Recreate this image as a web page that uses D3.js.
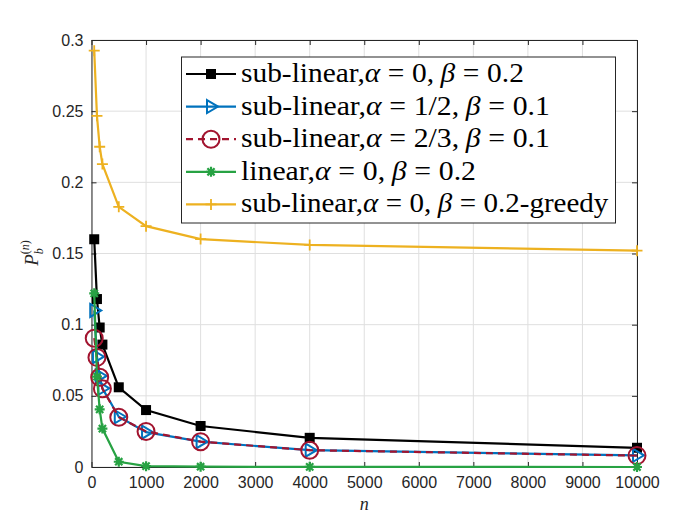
<!DOCTYPE html>
<html><head><meta charset="utf-8">
<script src="https://cdn.jsdelivr.net/npm/d3@7"></script>
<style>body{margin:0;background:#fff}svg{display:block}</style>
</head><body>
<svg id="c" width="700" height="525"></svg>
<script>
const nValues = [50, 100, 150, 200, 500, 1000, 2000, 4000, 10000];
const subA0B02 = [0.160, 0.118, 0.098, 0.086, 0.056, 0.040, 0.0288, 0.0205, 0.0135];
const subA12B01 = [0.110, 0.0775, 0.064, 0.0553, 0.0353, 0.0245, 0.0178, 0.0118, 0.0082];
const subA23B01 = [0.0905, 0.077, 0.063, 0.055, 0.035, 0.025, 0.0178, 0.0118, 0.0080];
const linA0B02 = [0.122, 0.0635, 0.0405, 0.027, 0.0037, 0.0006, 0.0002, 0.0001, 0.0];
const greedy = [0.2925, 0.2467, 0.225, 0.2128, 0.1828, 0.1692, 0.1601, 0.156, 0.152];
const xTicks = [0,1000,2000,3000,4000,5000,6000,7000,8000,9000,10000];
const yTicks = [0,0.05,0.1,0.15,0.2,0.25,0.3];
const legendLabels = [
  "sub-linear,α = 0, β = 0.2",
  "sub-linear,α = 1/2, β = 0.1",
  "sub-linear,α = 2/3, β = 0.1",
  "linear,α = 0, β = 0.2",
  "sub-linear,α = 0, β = 0.2-greedy"
];

const svg = d3.select("#c");
const L = 91.5, R = 637, T = 40, B = 467;
const x = d3.scaleLinear().domain([0, 10000]).range([L, R]);
const y = d3.scaleLinear().domain([0, 0.3]).range([B, T]);
const axisCol = "#262626";

// grid
const g = svg.append("g");
g.selectAll(".gx").data(xTicks).join("line")
  .attr("x1", d => x(d)).attr("x2", d => x(d)).attr("y1", T).attr("y2", B)
  .attr("stroke", "#dfdfdf").attr("stroke-width", 1);
g.selectAll(".gy").data(yTicks).join("line")
  .attr("y1", d => y(d)).attr("y2", d => y(d)).attr("x1", L).attr("x2", R)
  .attr("stroke", "#dfdfdf").attr("stroke-width", 1);

// axes
const fmt = d => (d === 0 ? "0" : String(+d.toFixed(2)));
const ax = svg.append("g").attr("transform", `translate(0,${B})`)
  .call(d3.axisBottom(x).tickValues(xTicks).tickFormat(d => d).tickSizeInner(-5).tickSizeOuter(0).tickPadding(10));
const ax2 = svg.append("g").attr("transform", `translate(0,${T})`)
  .call(d3.axisTop(x).tickValues(xTicks).tickFormat("").tickSizeInner(-5).tickSizeOuter(0));
const ay = svg.append("g").attr("transform", `translate(${L},0)`)
  .call(d3.axisLeft(y).tickValues(yTicks).tickFormat(fmt).tickSizeInner(-5).tickSizeOuter(0).tickPadding(8));
const ay2 = svg.append("g").attr("transform", `translate(${R},0)`)
  .call(d3.axisRight(y).tickValues(yTicks).tickFormat("").tickSizeInner(-5).tickSizeOuter(0));
[ax, ax2, ay, ay2].forEach(a => {
  a.select(".domain").attr("stroke", axisCol).attr("stroke-width", 1);
  a.selectAll(".tick line").attr("stroke", axisCol);
  a.selectAll("text").attr("fill", axisCol).attr("font-family", "Liberation Sans, Arial, sans-serif").attr("font-size", 16);
});

// series
const series = [
  {vals: subA0B02, color: "#000000", marker: "square", dash: null},
  {vals: subA12B01, color: "#0072BD", marker: "triangle", dash: null},
  {vals: subA23B01, color: "#A2142F", marker: "circle", dash: "7,5"},
  {vals: linA0B02, color: "#27A243", marker: "asterisk", dash: null},
  {vals: greedy, color: "#EDB120", marker: "plus", dash: null}
];
const line = d3.line().x(d => x(d[0])).y(d => y(d[1]));

function drawMarker(sel, type, color) {
  if (type === "square") {
    sel.append("rect").attr("x", -5).attr("y", -5).attr("width", 10).attr("height", 10).attr("fill", color);
  } else if (type === "triangle") {
    sel.append("path").attr("d", "M-4,-6.5L7,0L-4,6.5Z").attr("fill", "none").attr("stroke", color).attr("stroke-width", 2);
  } else if (type === "circle") {
    sel.append("circle").attr("r", 8.5).attr("fill", "none").attr("stroke", color).attr("stroke-width", 2);
  } else if (type === "asterisk") {
    sel.append("path").attr("d", "M-5,0H5M0,-5V5M-3.6,-3.6L3.6,3.6M-3.6,3.6L3.6,-3.6")
      .attr("stroke", color).attr("stroke-width", 2.2);
    sel.append("circle").attr("r", 2.5).attr("fill", color);
  } else if (type === "plus") {
    sel.append("path").attr("d", "M-5.5,0H5.5M0,-5.5V5.5").attr("stroke", color).attr("stroke-width", 1.8);
  }
}

series.forEach(s => {
  const pts = nValues.map((n, i) => [n, s.vals[i]]);
  svg.append("path").datum(pts).attr("d", line).attr("fill", "none")
    .attr("stroke", s.color).attr("stroke-width", 2.2)
    .attr("stroke-dasharray", s.dash);
  pts.forEach(p => {
    const m = svg.append("g").attr("transform", `translate(${x(p[0])},${y(p[1])})`);
    drawMarker(m, s.marker, s.color);
  });
});

// legend
const lg = svg.append("g");
lg.append("rect").attr("x", 181.5).attr("y", 57).attr("width", 434).attr("height", 166)
  .attr("fill", "#fff").attr("stroke", axisCol).attr("stroke-width", 1);
const textWidths = [283, 309, 309, 235, 368];
legendLabels.forEach((lab, i) => {
  const cy = 74 + i * 32.6;
  const s = series[i];
  lg.append("line").attr("x1", 186).attr("x2", 236).attr("y1", cy).attr("y2", cy)
    .attr("stroke", s.color).attr("stroke-width", 2.2).attr("stroke-dasharray", s.dash);
  const m = lg.append("g").attr("transform", `translate(211,${cy})`);
  drawMarker(m, s.marker, s.color);
  const tg = lg.append("g");
  const t = tg.append("text").attr("x", 0).attr("y", 0)
    .attr("font-family", "Liberation Serif, Times New Roman, serif").attr("font-size", 27).attr("fill", "#000");
  // tokenise: greek letters italic, math spacing around "=" and after ","
  const tokens = lab.replace(/ = /g, "\u0001=\u0001").replace(/, /g, ",\u0002").split(/([αβ=\u0001\u0002])/);
  let pendingDx = 0;
  tokens.forEach(p => {
    if (p === "") return;
    if (p === "\u0001") { pendingDx += 7; return; }
    if (p === "\u0002") { pendingDx += 6; return; }
    const ts = t.append("tspan").text(p);
    if (pendingDx) { ts.attr("dx", pendingDx); pendingDx = 0; }
    if (p === "α" || p === "β") ts.attr("font-style", "italic");
  });
  const w = t.node().getBBox().width;
  tg.attr("transform", `translate(241,${cy + 8}) scale(${textWidths[i] / w},1)`);
});

// axis labels
svg.append("text").attr("x", (L + R) / 2).attr("y", 510).attr("text-anchor", "middle")
  .attr("font-family", "Liberation Serif, serif").attr("font-style", "italic").attr("font-size", 18).attr("fill", axisCol).text("n");
const yl = svg.append("text").attr("transform", "translate(38,253) rotate(-90)").attr("text-anchor", "middle")
  .attr("font-family", "Liberation Serif, serif").attr("font-style", "italic").attr("font-size", 19).attr("fill", axisCol);
yl.append("tspan").text("P");
yl.append("tspan").attr("font-size", 12).attr("dy", 5).text("b");
yl.append("tspan").attr("font-size", 12).attr("dx", -6).attr("dy", -14).attr("font-style", "normal").text("(");
yl.append("tspan").attr("font-size", 12).text("n");
yl.append("tspan").attr("font-size", 12).attr("font-style", "normal").text(")");
</script>
</body></html>
